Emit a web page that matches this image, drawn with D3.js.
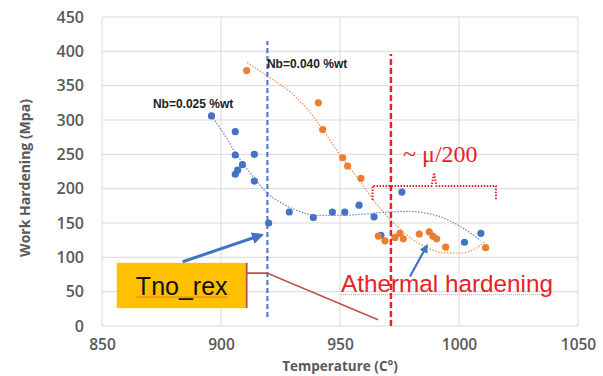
<!DOCTYPE html>
<html><head><meta charset="utf-8">
<script src="https://cdn.jsdelivr.net/npm/d3@7"></script>
<style>
body{margin:0;background:#fff;}
svg{display:block;}
</style></head>
<body><svg id="c" width="603" height="376"></svg>
<script>
// ---- data ----
const xTicks = [850, 900, 950, 1000, 1050];
const yTicks = [0, 50, 100, 150, 200, 250, 300, 350, 400, 450];

const blueT = [896, 906, 906, 914, 909, 907, 906, 914, 928.7, 920, 938.8, 946.8, 952, 958, 964.3, 976, 967.2, 1002.3, 1009.2];
const blueV = [306, 283, 249, 250, 235, 227, 221, 211, 166, 150, 158, 166, 166, 176, 159, 195, 132, 122, 135];

const orangeT = [910.8, 940.9, 942.7, 951.1, 953.2, 958.8, 966.1, 968.9, 973.1, 975.2, 976.6, 983.3, 987.5, 989, 990.6, 994.4, 1011.2];
const orangeV = [372, 325, 286, 245, 233, 215, 131, 124, 129, 135, 127, 134, 137, 131, 127, 115, 114];

const blueTrendT = [896, 901, 906, 910, 915, 919, 925, 933, 940, 950, 960, 970, 978, 985, 993, 1000, 1009];
const blueTrendV = [306, 281, 253, 233, 211, 195, 180, 167, 161, 161, 163, 166, 167, 165, 158, 146, 125];

const orangeTrendT = [911, 919, 929, 936, 943, 950, 958, 965, 972, 979, 986, 993, 1000, 1007, 1011];
const orangeTrendV = [384, 365, 341, 317, 285, 249, 213, 179, 152, 130, 115, 107, 106, 113, 123];

const seriesLabels = ["Nb=0.025 %wt", "Nb=0.040 %wt"];
const seriesLabelPos = [[871.4, 317], [919.3, 376]];

const tnoRexLine = {T: 919.5, v0: 13, v1: 415};
const tnrRedLine = {T: 971.4, v0: 0, v1: 396};

const braceT = [963.7, 963.7, 988.5, 989.5, 990.5, 1015.5, 1015.5];
const braceV = [183.5, 204, 204, 223, 204, 204, 183.5];

const boxT = [856.2, 910.8];
const boxV = [26, 92];
const calloutT = [910.8, 919.3, 966];
const calloutV = [77, 77, 9];
const arrow1 = [[883.9, 93.6], [917.1, 132.5]];
const arrow2 = [[979.4, 72], [986.5, 117]];

const txtMu = {T: 976.5, v: 239, s: "~ μ/200"};
const txtAth = {T: 950.4, v: 50, s: "Athermal hardening"};
const txtTno = {T: 883.5, v: 45, s: "Tno_rex"};

// ---- scales ----
const svg = d3.select("#c");
const x = d3.scaleLinear().domain([850, 1050]).range([102, 578]);
const y = d3.scaleLinear().domain([0, 450]).range([326, 17]);

const blue = "#4472C4", orange = "#ED7D31", red = "#E4222B", grey = "#595959";

// gridlines
svg.append("g").selectAll("line").data(yTicks).join("line")
  .attr("x1", x(850)).attr("x2", x(1050))
  .attr("y1", d => y(d)).attr("y2", d => y(d))
  .attr("stroke", "#d9d9d9").attr("stroke-width", 1);
svg.append("g").selectAll("line").data(xTicks).join("line")
  .attr("y1", y(0)).attr("y2", y(450))
  .attr("x1", d => x(d)).attr("x2", d => x(d))
  .attr("stroke", "#d9d9d9").attr("stroke-width", 1);

// axes labels
const tickFont = "'Open Sans', 'DejaVu Sans', sans-serif";
const yAxis = d3.axisLeft(y).tickValues(yTicks).tickSize(0).tickPadding(18).tickFormat(d3.format("d"));
const gy = svg.append("g").attr("transform", `translate(${x(850)},0)`).call(yAxis);
const xAxis = d3.axisBottom(x).tickValues(xTicks).tickSize(0).tickPadding(13).tickFormat(d3.format("d"));
const gx = svg.append("g").attr("transform", `translate(0,${y(0)})`).call(xAxis);
[gy, gx].forEach(g => {
  g.select(".domain").remove();
  g.selectAll("text").attr("fill", grey).style("font-family", tickFont)
    .style("font-size", "16px").style("font-weight", "600");
});
gx.selectAll("text").style("font-size", "15.5px");

svg.append("text").attr("x", 340).attr("y", 371).attr("text-anchor", "middle")
  .attr("fill", grey).style("font-family", tickFont).style("font-size", "13.5px").style("font-weight", "700")
  .text("Temperature (C°)");
svg.append("text").attr("transform", "translate(30,178) rotate(-90)").attr("text-anchor", "middle")
  .attr("fill", grey).style("font-family", tickFont).style("font-size", "14px").style("font-weight", "700")
  .text("Work Hardening (Mpa)");

// trend lines
const line = d3.line().x(d => x(d[0])).y(d => y(d[1])).curve(d3.curveMonotoneX);
svg.append("path").datum(orangeTrendT.map((t, i) => [t, orangeTrendV[i]]))
  .attr("d", line).attr("fill", "none").attr("stroke", orange).attr("stroke-width", 1.3)
  .attr("stroke-dasharray", "1.5,1.5").attr("opacity", 0.8);
svg.append("path").datum(blueTrendT.map((t, i) => [t, blueTrendV[i]]))
  .attr("d", line).attr("fill", "none").attr("stroke", blue).attr("stroke-width", 1.3)
  .attr("stroke-dasharray", "1.5,1.5").attr("opacity", 0.8);

// points
svg.append("g").selectAll("circle").data(blueT.map((t, i) => [t, blueV[i]])).join("circle")
  .attr("cx", d => x(d[0])).attr("cy", d => y(d[1])).attr("r", 3.6).attr("fill", blue);
svg.append("g").selectAll("circle").data(orangeT.map((t, i) => [t, orangeV[i]])).join("circle")
  .attr("cx", d => x(d[0])).attr("cy", d => y(d[1])).attr("r", 3.6).attr("fill", orange);

// vertical dashed lines
svg.append("line").attr("x1", x(tnoRexLine.T)).attr("x2", x(tnoRexLine.T))
  .attr("y1", y(tnoRexLine.v0)).attr("y2", y(tnoRexLine.v1))
  .attr("stroke", blue).attr("stroke-width", 2).attr("stroke-dasharray", "5,3");
svg.append("line").attr("x1", x(tnrRedLine.T)).attr("x2", x(tnrRedLine.T))
  .attr("y1", y(tnrRedLine.v0)).attr("y2", y(tnrRedLine.v1))
  .attr("stroke", red).attr("stroke-width", 2.5).attr("stroke-dasharray", "6,3");

// series labels
svg.append("g").selectAll("text").data(seriesLabels).join("text")
  .attr("x", (d, i) => x(seriesLabelPos[i][0])).attr("y", (d, i) => y(seriesLabelPos[i][1]))
  .attr("fill", "#222").style("font-family", "'Liberation Sans', Arial, sans-serif")
  .style("font-size", "12px").style("font-weight", "700").text(d => d);

// brace
svg.append("path").datum(braceT.map((t, i) => [t, braceV[i]]))
  .attr("d", d3.line().x(d => x(d[0])).y(d => y(d[1])))
  .attr("fill", "none").attr("stroke", red).attr("stroke-width", 2).attr("stroke-dasharray", "1.5,1.5");
svg.append("text").attr("x", x(txtMu.T)).attr("y", y(txtMu.v)).attr("fill", red)
  .style("font-family", "'Liberation Serif', 'Times New Roman', serif").style("font-size", "24px").text(txtMu.s);

// Tno_rex box
svg.append("rect").attr("x", x(boxT[0])).attr("y", y(boxV[1]))
  .attr("width", x(boxT[1]) - x(boxT[0])).attr("height", y(boxV[0]) - y(boxV[1]))
  .attr("fill", "#FFC000");
svg.append("path").datum(calloutT.map((t, i) => [t, calloutV[i]]))
  .attr("d", d3.line().x(d => x(d[0])).y(d => y(d[1])))
  .attr("fill", "none").attr("stroke", "#C0504D").attr("stroke-width", 1.6);
svg.append("line").attr("x1", x(boxT[1])).attr("x2", x(boxT[1]))
  .attr("y1", y(boxV[0])).attr("y2", y(boxV[1])).attr("stroke", "#C0504D").attr("stroke-width", 1.8);
svg.append("text").attr("x", x(txtTno.T)).attr("y", y(txtTno.v)).attr("text-anchor", "middle")
  .attr("fill", "#111").style("font-family", "'Liberation Sans', Arial, sans-serif").style("font-size", "25px").text(txtTno.s);
svg.append("line").attr("x1", x(txtTno.T) - 46).attr("x2", x(txtTno.T) + 46)
  .attr("y1", y(txtTno.v) + 2).attr("y2", y(txtTno.v) + 2).attr("stroke", "#E0603A").attr("stroke-width", 1).attr("opacity", 0.7);

// Athermal text
svg.append("text").attr("x", x(txtAth.T)).attr("y", y(txtAth.v)).attr("fill", red)
  .style("font-family", "'Liberation Sans', Arial, sans-serif").style("font-size", "24.3px").text(txtAth.s);
svg.append("line").attr("x1", x(txtAth.T)).attr("x2", x(txtAth.T) + 208)
  .attr("y1", y(txtAth.v) + 3).attr("y2", y(txtAth.v) + 3).attr("stroke", red).attr("stroke-width", 1)
  .attr("stroke-dasharray", "1,1").attr("opacity", 0.5);

// arrows
const defs = svg.append("defs");
defs.append("marker").attr("id", "ah").attr("viewBox", "0 0 10 10").attr("refX", 8).attr("refY", 5)
  .attr("markerWidth", 4).attr("markerHeight", 4).attr("orient", "auto")
  .append("path").attr("d", "M0,0L10,5L0,10z").attr("fill", blue);
[arrow1, arrow2].forEach((a, i) => {
  svg.append("line").attr("x1", x(a[0][0])).attr("y1", y(a[0][1]))
    .attr("x2", x(a[1][0])).attr("y2", y(a[1][1]))
    .attr("stroke", blue).attr("stroke-width", i === 0 ? 3 : 2.2).attr("marker-end", "url(#ah)");
});
</script>
</body></html>
